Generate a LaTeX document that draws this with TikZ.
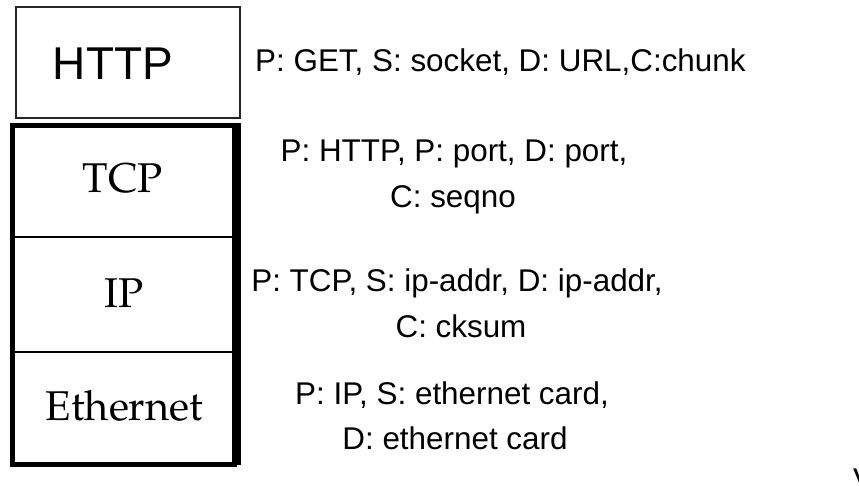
\documentclass[tikz,border=0pt]{standalone}
\usepackage[T1]{fontenc}
\usepackage{fontspec}
\setmainfont{Liberation Sans}
% Palatino-style serif (URW Palladio, Type1) for the layer names
\newcommand{\layerfont}{\fontencoding{T1}\fontfamily{ppl}\fontsize{41.6}{50}\selectfont}
\begin{document}
\begin{tikzpicture}[x=1pt,y=-1pt,
  info/.style={inner sep=0pt, anchor=base, font=\fontsize{31.4}{46}\selectfont},
  layername/.style={inner sep=0pt, anchor=base, font=\layerfont},
  thinbox/.style={line width=1.5pt, draw=black!85},
  stackframe/.style={line width=5pt, draw=black},
  divider/.style={line width=2pt, draw=black}]
\useasboundingbox (0,0) rectangle (859,486);

% application layer box
\draw[thinbox] (16,7) rectangle (240,118);
\node[inner sep=0pt, anchor=base, font=\fontsize{46}{50}\selectfont] (http) at (113,80) {HTTP};

% protocol stack with heavy frame
\draw[stackframe] (12.5,125.5) rectangle (234.5,464.5);
\fill[black] (234.5,123) rectangle (240.5,465);
\coordinate (d1l) at (15,237);
\coordinate (d1r) at (232,237);
\coordinate (d2l) at (15,352);
\coordinate (d2r) at (232,352);
\draw[divider] (d1l) -- (d1r);
\draw[divider] (d2l) -- (d2r);

\node[layername] (tcp) at (123,193) {TCP};
\node[layername] (ip) at (124,308) {IP};
\node[layername] (eth) at (124.5,420) {Ethernet};

% header fields for each layer
\node[info, anchor=base west] (httpinfo) at (255,72) {P: GET, S: socket, D: URL,C:chunk};

\node[info] (tcpinfoa) at (454,162) {P: HTTP, P: port, D: port,};
\node[info] (tcpinfob) at (453,208) {C: seqno};

\node[info] (ipinfoa) at (457,291) {P: TCP, S: ip-addr, D: ip-addr,};
\node[info] (ipinfob) at (461,337) {C: cksum};

\node[info] (ethinfoa) at (452,404) {P: IP, S: ethernet card,};
\node[info] (ethinfob) at (455,449) {D: ethernet card};

\node[info, anchor=base west] (vmark) at (853,490) {V};
\end{tikzpicture}
\end{document}
